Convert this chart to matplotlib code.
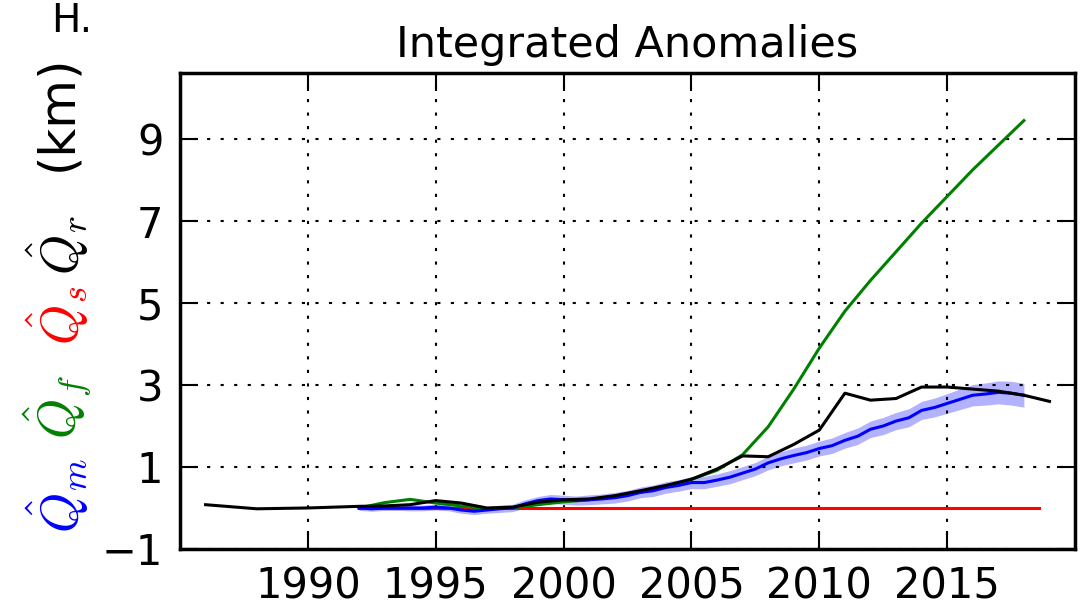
import numpy as np
import matplotlib.pyplot as plt

# Integrated anomalies (km)

# Q_r (black), annual
anios_r = [1986, 1987, 1988, 1989, 1990, 1991, 1992, 1993, 1994, 1995,
           1996, 1997, 1998, 1999, 2000, 2001, 2002, 2003, 2004, 2005,
           2006, 2007, 2008, 2009, 2010, 2011, 2012, 2013, 2014, 2015,
           2016, 2017, 2018, 2019]
q_r = [0.08, 0.03, -0.02, -0.01, 0.0, 0.02, 0.04, 0.05, 0.08, 0.18,
       0.12, 0.0, 0.02, 0.14, 0.2, 0.22, 0.3, 0.42, 0.55, 0.7,
       0.95, 1.27, 1.25, 1.55, 1.9, 2.8, 2.63, 2.67, 2.95, 2.95,
       2.9, 2.85, 2.75, 2.6]

# Q_f (green), annual
anios_f = [1992, 1993, 1994, 1995, 1996, 1997, 1998, 1999, 2000, 2001,
           2002, 2003, 2004, 2005, 2006, 2007, 2008, 2009, 2010, 2011,
           2012, 2013, 2014, 2015, 2016, 2017, 2018]
q_f = [0.0, 0.13, 0.21, 0.12, 0.05, -0.02, 0.0, 0.08, 0.15, 0.2,
       0.28, 0.38, 0.52, 0.7, 0.92, 1.3, 1.98, 2.9, 3.9, 4.8,
       5.55, 6.25, 6.95, 7.6, 8.25, 8.85, 9.45]

# Q_s (red)
anios_s = [1992, 2018.6]
q_s = [0.0, 0.0]

# Q_m (blue), semestral, con banda de incertidumbre
anios_m = [1992.0, 1992.5, 1993.0, 1993.5, 1994.0, 1994.5, 1995.0, 1995.5,
           1996.0, 1996.5, 1997.0, 1997.5, 1998.0, 1998.5, 1999.0, 1999.5,
           2000.0, 2000.5, 2001.0, 2001.5, 2002.0, 2002.5, 2003.0, 2003.5,
           2004.0, 2004.5, 2005.0, 2005.5, 2006.0, 2006.5, 2007.0, 2007.5,
           2008.0, 2008.5, 2009.0, 2009.5, 2010.0, 2010.5, 2011.0, 2011.5,
           2012.0, 2012.5, 2013.0, 2013.5, 2014.0, 2014.5, 2015.0, 2015.5,
           2016.0, 2016.5, 2017.0, 2017.5, 2018.0]
q_m = [0.0, -0.02, 0.0, 0.0, 0.0, 0.0, 0.02, 0.0,
       -0.05, -0.08, -0.05, -0.02, 0.0, 0.1, 0.18, 0.22,
       0.2, 0.18, 0.2, 0.22, 0.25, 0.3, 0.38, 0.42,
       0.5, 0.55, 0.62, 0.62, 0.68, 0.75, 0.85, 0.95,
       1.1, 1.2, 1.28, 1.35, 1.45, 1.52, 1.65, 1.75,
       1.92, 2.0, 2.12, 2.2, 2.38, 2.45, 2.55, 2.65,
       2.75, 2.78, 2.82, 2.8, 2.75]
err_m = [0.06, 0.06, 0.06, 0.06, 0.07, 0.07, 0.07, 0.07,
         0.08, 0.08, 0.08, 0.09, 0.09, 0.1, 0.1, 0.11,
         0.11, 0.11, 0.12, 0.12, 0.13, 0.13, 0.13, 0.14,
         0.14, 0.14, 0.15, 0.15, 0.15, 0.16, 0.16, 0.16,
         0.17, 0.17, 0.18, 0.18, 0.18, 0.19, 0.19, 0.2,
         0.2, 0.21, 0.21, 0.22, 0.22, 0.23, 0.24, 0.25,
         0.26, 0.27, 0.28, 0.29, 0.29]

anios_ticks = [1990, 1995, 2000, 2005, 2010, 2015]
y_ticks = [-1, 1, 3, 5, 7, 9]

plt.rcParams['mathtext.fontset'] = 'cm'
plt.rcParams['font.family'] = 'DejaVu Sans'

fig = plt.figure(figsize=(10.87, 6.12), dpi=100)
ax = fig.add_axes([0.1656, 0.103, 0.8234, 0.777])

m = np.array(q_m)
e = np.array(err_m)
ax.fill_between(anios_m, m - e, m + e, color='b', alpha=0.3, lw=0)
ax.plot(anios_s, q_s, color='r', lw=2.2)
ax.plot(anios_f, q_f, color=(0, 0.5, 0), lw=2.2)
ax.plot(anios_m, q_m, color='b', lw=2.2)
ax.plot(anios_r, q_r, color='k', lw=2.2)

ax.set_xlim(1985, 2020)
ax.set_ylim(-1, 10.6)
ax.set_xticks(anios_ticks)
ax.set_yticks(y_ticks)
ax.set_yticklabels(['\u22121', '1', '3', '5', '7', '9'])
ax.tick_params(direction='in', length=13, width=1.5, labelsize=30,
               top=True, right=True, pad=12)
ax.grid(True, color='k', linestyle=(0, (1.5, 5)), lw=1.5)
for s in ax.spines.values():
    s.set_linewidth(2.5)

ax.set_title('Integrated Anomalies', fontsize=31, pad=12)

# etiqueta del eje y en varios colores
etiquetas = [(r'$\hat{Q}_m$', 'b', 0.19, 37),
             (r'$\hat{Q}_f$', (0, 0.5, 0), 0.335, 37),
             (r'$\hat{Q}_s$', 'r', 0.485, 37),
             (r'$\hat{Q}_r$', 'k', 0.6, 37),
             ('(km)', 'k', 0.815, 36)]
for txt, col, yy, fs in etiquetas:
    fig.text(0.053, yy, txt, color=col, fontsize=fs, rotation=90,
             ha='center', va='center')

fig.text(0.047, 0.997, 'H.', fontsize=28, ha='left', va='top')

fig.savefig('out.png', dpi=100, facecolor='white')
